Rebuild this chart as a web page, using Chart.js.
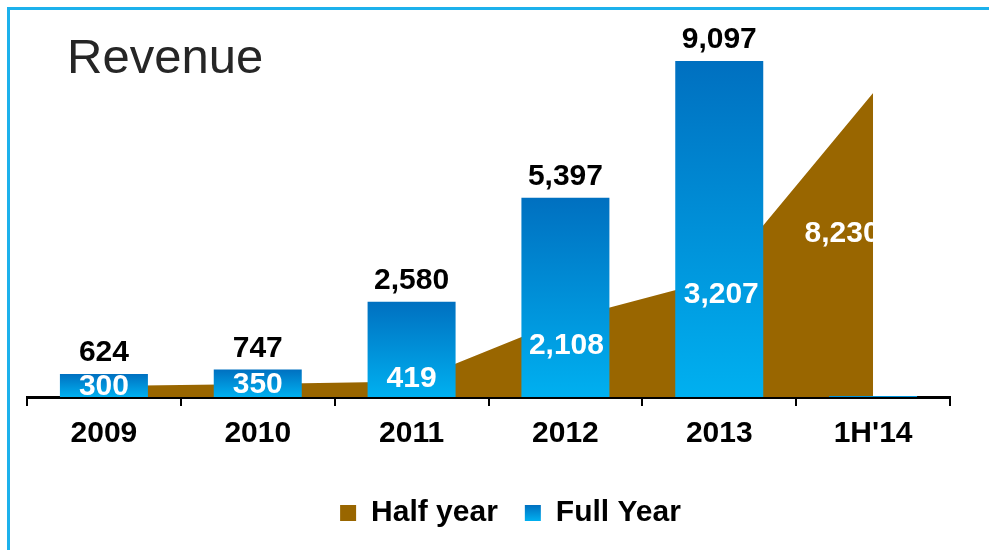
<!DOCTYPE html>
<html>
<head>
<meta charset="utf-8">
<title>Revenue</title>
<script src="https://cdn.jsdelivr.net/npm/chart.js@4.4.1/dist/chart.umd.min.js"></script>
<style>
  html, body { margin: 0; padding: 0; background: #fff; }
  #wrap { position: relative; width: 989px; height: 550px; overflow: hidden; }
  #frame {
    position: absolute; left: 7px; top: 7px; width: 1000px; height: 600px;
    border-left: 3px solid #1cb1ec; border-top: 3px solid #1cb1ec;
  }
  #title {
    position: absolute; left: 67px; top: 32px;
    font: 49px/49px "Liberation Sans", Arial, sans-serif; color: #262626;
  }
  #chart { position: absolute; left: 0; top: 0; }
</style>
</head>
<body>
<div id="wrap">
  <div id="frame"></div>
  <canvas id="chart" width="989" height="550"></canvas>
  <div id="title">Revenue</div>
</div>
<script>
var categories = ['2009', '2010', '2011', '2012', '2013', "1H'14"];
var halfYear = [300, 350, 419, 2108, 3207, 8230];
var fullYear = [624, 747, 2580, 5397, 9097, 30];
// the 1H'14 full-year bar is only a stub, it gets no figure
var fullYearLabelled = [true, true, true, true, true, false];

var FONT = '"Liberation Sans", Arial, sans-serif';
var BLUE_TOP = '#0070c0';
var BLUE_BOTTOM = '#00b0f0';
var BROWN = '#996600';

Chart.defaults.font.family = FONT;

function fmt(v) {
	return v.toLocaleString('en-US');
}

function blueGradient(ctx, top, bottom) {
	var g = ctx.createLinearGradient(0, top, 0, bottom);
	g.addColorStop(0, BLUE_TOP);
	g.addColorStop(1, BLUE_BOTTOM);
	return g;
}

// one gradient per bar, dark at the top of the bar, light at its base
function barFill(c) {
	var chart = c.chart;
	if (!chart.chartArea || c.type !== 'data') return BLUE_BOTTOM;
	var y = chart.scales.y;
	var top = y.getPixelForValue(c.parsed.y);
	var base = y.getPixelForValue(0);
	if (!(base > top)) return BLUE_TOP;
	return blueGradient(chart.ctx, top, base);
}

var valueLabels = {
	id: 'valueLabels',
	afterDatasetsDraw(chart, args, opts) {
		var ctx = chart.ctx;
		var area = chart.chartArea;
		ctx.save();
		ctx.font = 'bold 30px ' + FONT;
		ctx.textAlign = 'center';
		ctx.textBaseline = 'middle';

		// totals above the bars
		ctx.fillStyle = '#000';
		chart.getDatasetMeta(1).data.forEach(function (bar, i) {
			if (!fullYearLabelled[i]) return;
			ctx.fillText(fmt(fullYear[i]), bar.x, bar.y - opts.barGap);
		});

		// half-year figures, cut off where the brown area ends
		var pts = chart.getDatasetMeta(0).data;
		var last = pts[pts.length - 1];
		ctx.beginPath();
		ctx.rect(area.left, area.top, last.x - area.left, area.bottom - area.top);
		ctx.clip();
		ctx.fillStyle = '#fff';
		pts.forEach(function (p, i) {
			var off = opts.halfOffsets[i];
			ctx.fillText(fmt(halfYear[i]), p.x + off[0], p.y + off[1]);
		});
		ctx.restore();
	}
};

var legendNudge = {
	id: 'legendNudge',
	afterLayout(chart, args, opts) {
		chart.legend.left += opts.dx;
		chart.legend.right += opts.dx;
	},
	beforeDraw(chart) {
		var lg = chart.legend;
		lg.legendItems.forEach(function (item, i) {
			if (item.datasetIndex !== 1) return;
			var hb = lg.legendHitBoxes[i];
			var top = hb.top + (hb.height - 16) / 2;
			item.fillStyle = blueGradient(chart.ctx, top, top + 16);
		});
	}
};

new Chart('chart', {
	data: {
		labels: categories,
		datasets: [
			{
				type: 'line',
				label: 'Half year',
				data: halfYear,
				backgroundColor: BROWN,
				borderColor: BROWN,
				borderWidth: 0,
				pointRadius: 0,
				tension: 0,
				fill: 'origin',
				order: 2
			},
			{
				type: 'bar',
				label: 'Full Year',
				data: fullYear,
				backgroundColor: barFill,
				borderWidth: 0,
				categoryPercentage: 1,
				barPercentage: 0.572,
				order: 1
			}
		]
	},
	options: {
		responsive: false,
		animation: false,
		devicePixelRatio: 1,
		layout: {
			padding: { top: 27.65, left: 27, right: 39, bottom: 12 }
		},
		scales: {
			x: {
				offset: true,
				grid: {
					display: true,
					offset: true,
					drawOnChartArea: false,
					drawTicks: true,
					tickLength: 9,
					color: '#000',
					lineWidth: 2
				},
				border: { display: true, color: '#000', width: 3 },
				ticks: {
					color: '#000',
					font: { size: 30, weight: 'bold' },
					padding: 10,
					maxRotation: 0,
					autoSkip: false
				},
				afterFit: function (scale) {
					scale.height += 9;
				}
			},
			y: {
				display: false,
				min: 0,
				max: 10000
			}
		},
		plugins: {
			tooltip: { enabled: false },
			legend: {
				position: 'bottom',
				labels: {
					color: '#000',
					font: { size: 30, weight: 'bold' },
					boxWidth: 16,
					boxHeight: 16,
					padding: 27,
					sort: function (a, b) { return a.datasetIndex - b.datasetIndex; }
				}
			},
			valueLabels: {
				barGap: 21,
				halfOffsets: [[0, 0.5], [0, 1], [0, -2.5], [1, 27], [2, 16], [-31, 141]]
			},
			legendNudge: { dx: 22 }
		}
	},
	plugins: [valueLabels, legendNudge]
});
</script>
</body>
</html>
